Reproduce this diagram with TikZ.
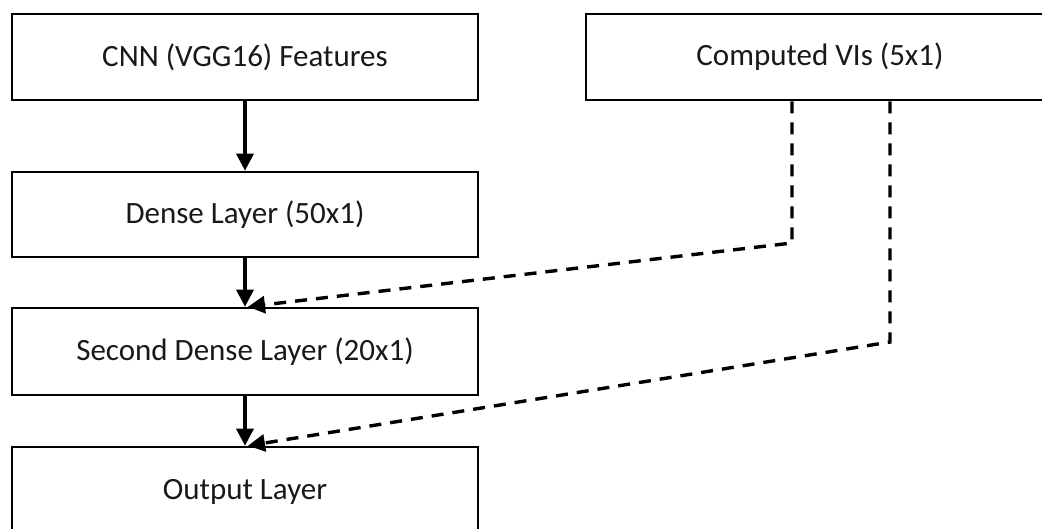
\documentclass[tikz,border=0pt]{standalone}
\usepackage{fontspec}
\setmainfont{Carlito}
\usetikzlibrary{arrows.meta}
\begin{document}
\begin{tikzpicture}[x=1pt,y=-1pt,
  layerbox/.style={draw=black, line width=2.6pt, fill=white, inner sep=0pt,
    font=\fontsize{31}{36}\selectfont, text=black!90},
  solidarrow/.style={line width=3.4pt, -{Triangle[width=17pt,length=17pt]}},
  dasharrow/.style={line width=3.4pt, dash pattern=on 12pt off 9pt,
    -{Triangle[width=17pt,length=17pt]}}]
\useasboundingbox (0,0) rectangle (1042,528);
\clip (0,0) rectangle (1042,528);
\fill[white] (0,0) rectangle (1042,528);
\node[layerbox, minimum width=466pt, minimum height=86pt] (cnn) at (245,57) {CNN (VGG16) Features};
\node[layerbox, minimum width=468pt, minimum height=86pt] (vis) at (820,57) {Computed VIs (5x1)};
\node[layerbox, minimum width=466pt, minimum height=85pt] (d1) at (245,214.5) {Dense Layer (50x1)};
\node[layerbox, minimum width=466pt, minimum height=87pt] (d2) at (245,351.5) {Second Dense Layer (20x1)};
\node[layerbox, minimum width=466pt, minimum height=90pt] (out) at (245,492) {Output Layer};
\coordinate (b1) at (792,243);
\coordinate (b2) at (890,342);
\draw[solidarrow] (cnn.south) -- (d1.north);
\draw[solidarrow] (d1.south) -- (d2.north);
\draw[solidarrow] (d2.south) -- (out.north);
\draw[dasharrow] (vis.south -| b1) -- (b1) -- ([xshift=3pt]d2.north);
\draw[dasharrow] (vis.south -| b2) -- (b2) -- ([xshift=3pt]out.north);
\end{tikzpicture}
\end{document}
